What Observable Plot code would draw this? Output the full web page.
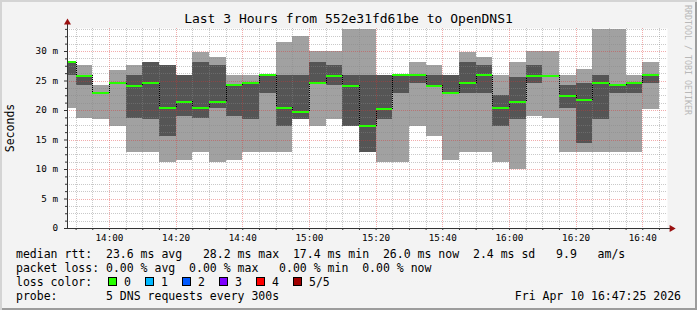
<!DOCTYPE html>
<html><head><meta charset="utf-8">
<script src="https://cdn.jsdelivr.net/npm/d3@7"></script>
<script src="https://cdn.jsdelivr.net/npm/@observablehq/plot@0.6"></script>
<style>
body{margin:0;background:#f3f3f3;}
#wrap{position:relative;width:697px;height:310px;background:#f3f3f3;box-shadow:inset 2px 2px 0 #d4d4d4, inset -2px -2px 0 #9c9c9c;font-family:"DejaVu Sans Mono",monospace;color:#000;overflow:hidden}
#wrap svg{position:absolute;left:0;top:0}
.t{position:absolute;white-space:pre;line-height:14px;font-size:11.5px}
</style></head><body><div id="wrap"></div>
<script>
// ---- data ----
const slotStart = ["13:45","13:50","13:55","14:00","14:05","14:10","14:15","14:20","14:25","14:30","14:35","14:40","14:45","14:50","14:55","15:00","15:05","15:10","15:15","15:20","15:25","15:30","15:35","15:40","15:45","15:50","15:55","16:00","16:05","16:10","16:15","16:20","16:25","16:30","16:35","16:40"];
const minRtt    = [20.3,18.7,18.5,17.3,12.9,12.9,11.2,11.5,12.9,11.2,11.5,12.9,12.9,12.9,18.5,17.3,18.5,17.3,12.9,11.2,11.2,17.3,15.6,11.5,12.9,12.9,11.2,10.0,19.0,18.7,12.9,12.9,12.9,12.9,12.9,20.2];
const smokeLow  = [25.9,24.2,22.9,24.6,18.7,18.5,15.6,19.0,18.7,20.3,19.0,18.5,22.9,17.3,18.5,24.6,24.2,17.3,12.9,18.5,22.9,24.6,24.1,22.9,22.9,22.9,17.3,18.5,24.6,25.9,20.4,14.4,18.5,22.9,22.9,24.6];
const medianRtt = [28.2,25.9,22.9,24.6,24.2,24.6,20.5,21.5,20.5,21.5,24.3,24.6,26.0,20.5,19.8,24.6,25.9,24.2,17.3,20.2,26.0,26.0,24.2,22.9,24.6,26.0,20.5,21.5,25.9,25.9,22.5,21.7,24.6,24.3,24.6,26.0];
const smokeHigh = [28.2,25.9,22.9,24.6,25.9,28.2,27.7,25.9,28.2,27.7,24.3,24.6,26.0,25.9,25.9,28.2,27.7,25.9,25.9,25.9,26.0,26.0,25.9,25.9,28.2,27.7,22.5,25.6,27.7,25.9,24.2,24.6,25.9,24.3,24.6,26.0];
const maxRtt    = [28.2,27.7,24.2,26.8,27.7,28.2,27.7,25.9,29.9,29.0,25.9,25.9,26.0,31.6,32.5,30.0,30.0,33.7,33.7,25.9,26.0,28.2,27.7,25.9,29.9,29.0,25.9,28.2,30.0,30.0,25.9,26.9,33.7,33.7,25.9,28.2];
const tickLabels = ["14:00","14:20","14:40","15:00","15:20","15:40","16:00","16:20","16:40"];
const yTicks = [0,5,10,15,20,25,30];
const lossLabels = ["0","1","2","3","4","5/5"];
const lossColors = ["#26ff00","#00b8ff","#0059ff","#7e00ff","#ff0000","#a00000"];
const legendLines = [
  "median rtt:  23.6 ms avg   28.2 ms max  17.4 ms min  26.0 ms now  2.4 ms sd   9.9   am/s",
  "packet loss: 0.00 % avg  0.00 % max   0.00 % min  0.00 % now",
  "loss color:",
  "probe:       5 DNS requests every 300s"
];
const title = "Last 3 Hours from 552e31fd61be to OpenDNS1";
const stamp = "Fri Apr 10 16:47:25 2026";

// ---- build ----
const T = (s, sec = 0) => { const [h, m] = s.split(":").map(Number); return new Date(Date.UTC(2026, 3, 10, h, m, sec)); };
const t0 = T("13:47", 25), t1 = T("16:47", 25);
const rows = slotStart.map((s, i) => ({start: T(s), end: new Date(+T(s) + 300000), lo: minRtt[i], dlo: smokeLow[i], med: medianRtt[i], dhi: smokeHigh[i], hi: maxRtt[i]}));
const steps = rows.slice(1).map((r, i) => ({t: r.start, a: rows[i].med, b: r.med})).filter(d => d.a !== d.b);
const yTop = 33.9;
const majorX = tickLabels.map(s => T(s));
const minorX = d3.utcMinute.every(5).range(t0, t1).filter(d => d.getUTCMinutes() % 20 !== 0);
const minorY = d3.range(1.25, yTop, 1.25).filter(v => Math.abs(v % 5) > 1e-6);
const axisEndX = new Date(+t1 + 75000), axisTopY = yTop + 1.0;

const chart = Plot.plot({
  width: 697, height: 310,
  marginTop: 28, marginRight: 30, marginBottom: 82, marginLeft: 67,
  style: {fontFamily: "DejaVu Sans Mono", fontSize: "9.3px", background: "transparent", overflow: "visible", color: "#000"},
  x: {type: "utc", domain: [t0, t1]},
  y: {domain: [0, yTop]},
  marks: [
    Plot.frame({fill: "white", stroke: "none"}),
    Plot.rect(rows, {x1: "start", x2: "end", y1: "lo", y2: "hi", fill: "#a1a1a1", clip: true, shapeRendering: "crispEdges"}),
    Plot.rect(rows, {x1: "start", x2: "end", y1: "dlo", y2: "dhi", fill: "#555555", clip: true, shapeRendering: "crispEdges"}),
    Plot.ruleY(minorY, {stroke: "#888", strokeOpacity: 0.45, strokeDasharray: "1,1", shapeRendering: "crispEdges"}),
    Plot.ruleX(minorX, {stroke: "#888", strokeOpacity: 0.45, strokeDasharray: "1,1", shapeRendering: "crispEdges"}),
    Plot.ruleY(yTicks.filter(v => v > 0), {stroke: "#de3030", strokeOpacity: 0.4, strokeDasharray: "1,1", shapeRendering: "crispEdges"}),
    Plot.ruleX(majorX, {stroke: "#de3030", strokeOpacity: 0.4, strokeDasharray: "1,1", shapeRendering: "crispEdges"}),
    Plot.ruleX(steps, {x: "t", y1: "a", y2: "b", stroke: "#000", strokeDasharray: "1,1", shapeRendering: "crispEdges"}),
    Plot.ruleY(rows, {x1: "start", x2: "end", y: "med", stroke: lossColors[0], strokeWidth: 2, clip: true, shapeRendering: "crispEdges"}),
    Plot.axisY(minorY, {tickSize: 2, tickFormat: () => "", stroke: "#333", label: null}),
    Plot.axisY(yTicks, {tickSize: 3, tickPadding: 6.5, tickFormat: d => d === 0 ? "0" : d + " m", stroke: "#333", label: null}),
    Plot.axisX(minorX, {tickSize: 2, tickFormat: () => "", stroke: "#333", label: null}),
    Plot.axisX(majorX, {tickSize: 2, tickPadding: 3.5, tickFormat: d3.utcFormat("%H:%M"), stroke: "#333", label: null}),
    Plot.ruleY([0], {x1: t0, x2: axisEndX, stroke: "#333", shapeRendering: "crispEdges"}),
    Plot.ruleX([t0], {y1: 0, y2: axisTopY, stroke: "#333", shapeRendering: "crispEdges"}),
    Plot.dot([0], {x: () => t0, y: () => axisTopY, symbol: "triangle", r: 2.6, fill: "#9a1010", stroke: "none"}),
    Plot.dot([0], {x: () => axisEndX, y: () => 0, symbol: "triangle", rotate: 90, r: 2.6, fill: "#9a1010", stroke: "none"})
  ]
});
const wrap = document.getElementById("wrap");
wrap.appendChild(chart);

function addText(txt, css) {
  const d = document.createElement("div");
  d.className = "t"; d.textContent = txt;
  Object.assign(d.style, css);
  wrap.appendChild(d); return d;
}
addText(title, {left: "0px", top: "12px", width: "697px", textAlign: "center", fontSize: "13px"});
addText("Seconds", {left: "3px", top: "121px", transformOrigin: "center", transform: "rotate(-90deg) translate(0,0)", fontSize: "11.5px", width: "56px", textAlign: "center", marginLeft: "-21px"});
addText("RRDTOOL / TOBI OETIKER", {left: "683px", top: "5px", writingMode: "vertical-rl", fontSize: "8.3px", lineHeight: "10px", color: "#b8b8b8"});
legendLines.forEach((line, i) => addText(line, {left: "16px", top: (247 + i * 14) + "px"}));
addText(stamp, {right: "16px", top: (247 + 3 * 14) + "px"});
lossLabels.forEach((lab, i) => {
  const x = 108 + i * 37;
  const b = document.createElement("div");
  Object.assign(b.style, {position: "absolute", left: x + "px", top: "277px", width: "9px", height: "9px", boxSizing: "border-box", border: "1px solid #000", background: lossColors[i]});
  wrap.appendChild(b);
  addText(lab, {left: (x + 16) + "px", top: "275px"});
});
</script>
</body></html>
